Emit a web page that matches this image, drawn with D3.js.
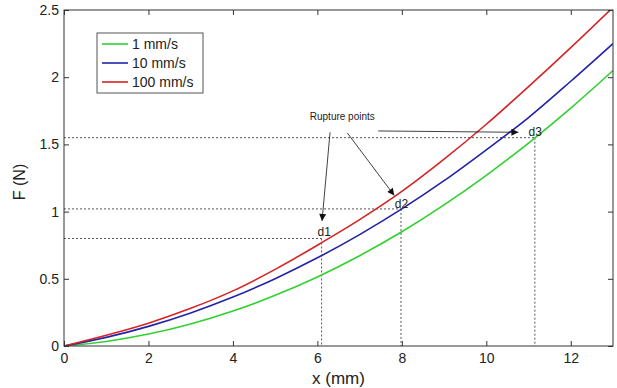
<!DOCTYPE html>
<html>
<head>
<meta charset="utf-8">
<script src="https://cdn.jsdelivr.net/npm/d3@7"></script>
<style>
  body { margin: 0; background: #fff; }
  text { font-family: Arial, "Liberation Sans", sans-serif; fill: #222; }
</style>
</head>
<body>
<svg id="chart" width="617" height="388"></svg>
<script>
// displacement (mm)
var xs = [0, 1, 2, 3, 4, 5, 6, 7, 8, 9, 10, 11, 12, 13];
// force (N) for each speed
var f1 = [0, 0.034, 0.089, 0.164, 0.26, 0.377, 0.514, 0.672, 0.85, 1.05, 1.27, 1.51, 1.77, 2.05];
var f10 = [0, 0.064, 0.146, 0.246, 0.364, 0.501, 0.656, 0.829, 1.02, 1.23, 1.46, 1.70, 1.97, 2.25];
var f100 = [0, 0.08, 0.17, 0.28, 0.41, 0.57, 0.75, 0.94, 1.15, 1.39, 1.65, 1.93, 2.22, 2.52];

var seriesNames = ['1 mm/s', '10 mm/s', '100 mm/s'];
var seriesColors = ['#2fd12f', '#2323a8', '#d42424'];

// rupture points d1..d3 : [x, F]
var ruptureLabels = ['d1', 'd2', 'd3'];
var ruptureX = [6.1, 7.98, 11.15];
var ruptureF = [0.8, 1.02, 1.55];

var xTicks = [0, 2, 4, 6, 8, 10, 12];
var yTicks = [0, 0.5, 1, 1.5, 2, 2.5];

var margin = { top: 10, right: 4, bottom: 42, left: 64 };
var width = 617 - margin.left - margin.right,
    height = 388 - margin.top - margin.bottom;

var svg = d3.select('#chart');
var g = svg.append('g')
  .attr('transform', 'translate(' + margin.left + ',' + margin.top + ')');

var x = d3.scaleLinear().domain([0, 13]).range([0, width]);
var y = d3.scaleLinear().domain([0, 2.5]).range([height, 0]);
var fmt = function (d) { return String(d); };

svg.append('defs').append('clipPath').attr('id', 'clip')
  .append('rect').attr('width', width).attr('height', height);

svg.select('defs').append('marker')
  .attr('id', 'arrow')
  .attr('viewBox', '0 0 10 10')
  .attr('refX', 10).attr('refY', 5)
  .attr('markerWidth', 9).attr('markerHeight', 7)
  .attr('markerUnits', 'userSpaceOnUse')
  .attr('orient', 'auto')
  .append('path')
    .attr('d', 'M0,0 L10,5 L0,10 z')
    .attr('fill', '#111');

// dotted guides to the rupture points
var guides = g.append('g').attr('class', 'guides');
ruptureX.forEach(function (rx, i) {
  guides.append('line')
    .attr('x1', x(0)).attr('x2', x(rx))
    .attr('y1', y(ruptureF[i])).attr('y2', y(ruptureF[i]));
  guides.append('line')
    .attr('x1', x(rx)).attr('x2', x(rx))
    .attr('y1', y(ruptureF[i])).attr('y2', y(0));
});
guides.selectAll('line')
  .attr('stroke', '#555')
  .attr('stroke-width', 1)
  .attr('stroke-dasharray', '2,2');

// curves
var line = d3.line()
  .x(function (d) { return x(d[0]); })
  .y(function (d) { return y(d[1]); })
  .curve(d3.curveMonotoneX);

[f1, f10, f100].forEach(function (vals, i) {
  g.append('path')
    .datum(xs.map(function (v, j) { return [v, vals[j]]; }))
    .attr('clip-path', 'url(#clip)')
    .attr('fill', 'none')
    .attr('stroke', seriesColors[i])
    .attr('stroke-width', 1.6)
    .attr('d', line);
});

// frame + inward ticks on all sides
g.append('rect')
  .attr('width', width).attr('height', height)
  .attr('fill', 'none').attr('stroke', '#333').attr('stroke-width', 1);

g.append('g')
  .attr('transform', 'translate(0,' + height + ')')
  .call(d3.axisBottom(x).tickValues(xTicks).tickFormat(fmt).tickSizeInner(-5).tickSizeOuter(0).tickPadding(7));
g.append('g')
  .call(d3.axisTop(x).tickValues(xTicks).tickSizeInner(-5).tickSizeOuter(0).tickFormat(''));
g.append('g')
  .call(d3.axisLeft(y).tickValues(yTicks).tickFormat(fmt).tickSizeInner(-5).tickSizeOuter(0).tickPadding(5));
g.append('g')
  .attr('transform', 'translate(' + width + ',0)')
  .call(d3.axisRight(y).tickValues(yTicks).tickSizeInner(-5).tickSizeOuter(0).tickFormat(''));

g.selectAll('.domain').remove();
g.selectAll('.tick line').attr('stroke', '#333');
g.selectAll('.tick text').style('font-size', '14px').attr('fill', '#222');

g.append('text')
  .attr('x', width / 2).attr('y', height + 38)
  .attr('text-anchor', 'middle')
  .style('font-size', '17px')
  .text('x (mm)');

g.append('text')
  .attr('transform', 'translate(' + (-39) + ',' + (height / 2 + 4) + ') rotate(-90)')
  .attr('text-anchor', 'middle')
  .style('font-size', '16px')
  .text('F (N)');

// annotations
var ann = g.append('g').attr('class', 'annotations');
ann.append('text')
  .attr('x', x(6.59)).attr('y', y(1.68))
  .attr('text-anchor', 'middle')
  .style('font-size', '10px')
  .text('Rupture points');

var arrows = [
  [[6.30, 1.59], [6.11, 0.93]],
  [[6.71, 1.585], [7.82, 1.12]],
  [[7.44, 1.60], [10.76, 1.59]]
];
arrows.forEach(function (a) {
  ann.append('line')
    .attr('x1', x(a[0][0])).attr('y1', y(a[0][1]))
    .attr('x2', x(a[1][0])).attr('y2', y(a[1][1]))
    .attr('stroke', '#111').attr('stroke-width', 0.8)
    .attr('marker-end', 'url(#arrow)');
});

var labelPos = [[6.16, 0.82], [7.99, 1.03], [11.16, 1.56]];
ruptureLabels.forEach(function (lab, i) {
  ann.append('text')
    .attr('x', x(labelPos[i][0])).attr('y', y(labelPos[i][1]))
    .attr('text-anchor', 'middle')
    .style('font-size', '12px')
    .text(lab);
});

// legend
var legend = g.append('g').attr('transform', 'translate(33,23)');
legend.append('rect')
  .attr('width', 106).attr('height', 60)
  .attr('fill', '#fff').attr('stroke', '#555').attr('stroke-width', 1);
seriesNames.forEach(function (name, i) {
  var row = legend.append('g').attr('transform', 'translate(0,' + (11 + i * 19) + ')');
  row.append('line')
    .attr('x1', 5).attr('x2', 31)
    .attr('stroke', seriesColors[i]).attr('stroke-width', 1.6);
  row.append('text')
    .attr('x', 35).attr('dy', '0.35em')
    .style('font-size', '14px')
    .text(name);
});
</script>
</body>
</html>
